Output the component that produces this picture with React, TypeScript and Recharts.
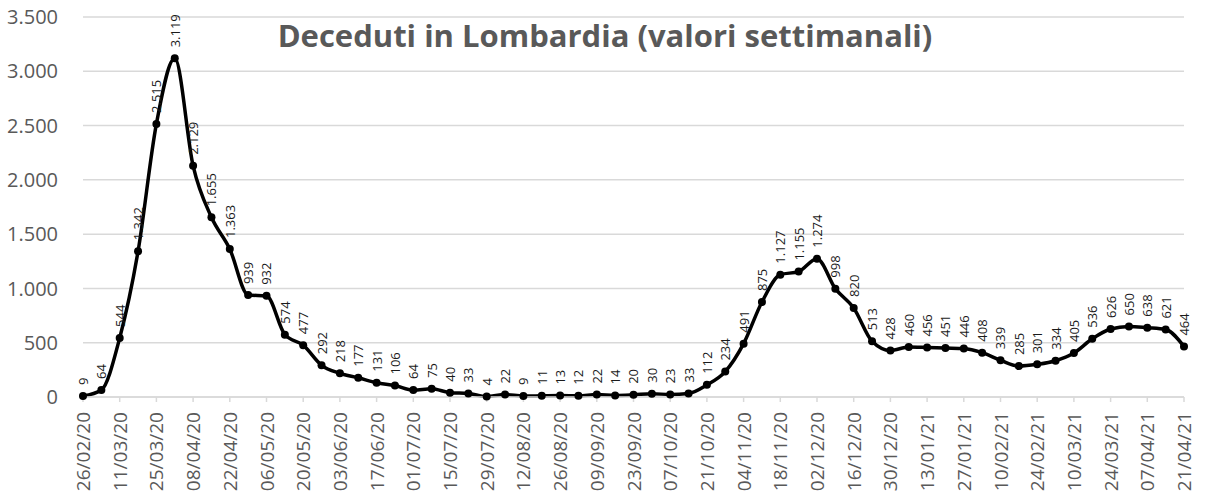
import React from 'react';
import { LineChart, Line, XAxis, YAxis, CartesianGrid, LabelList } from 'recharts';

const weeks = [
  '26/02/20', '04/03/20', '11/03/20', '18/03/20', '25/03/20', '01/04/20', '08/04/20', '15/04/20',
  '22/04/20', '29/04/20', '06/05/20', '13/05/20', '20/05/20', '27/05/20', '03/06/20', '10/06/20',
  '17/06/20', '24/06/20', '01/07/20', '08/07/20', '15/07/20', '22/07/20', '29/07/20', '05/08/20',
  '12/08/20', '19/08/20', '26/08/20', '02/09/20', '09/09/20', '16/09/20', '23/09/20', '30/09/20',
  '07/10/20', '14/10/20', '21/10/20', '28/10/20', '04/11/20', '11/11/20', '18/11/20', '25/11/20',
  '02/12/20', '09/12/20', '16/12/20', '23/12/20', '30/12/20', '06/01/21', '13/01/21', '20/01/21',
  '27/01/21', '03/02/21', '10/02/21', '17/02/21', '24/02/21', '03/03/21', '10/03/21', '17/03/21',
  '24/03/21', '31/03/21', '07/04/21', '14/04/21', '21/04/21',
];

const deaths = [
  9, 64, 544, 1342, 2515, 3119, 2129, 1655,
  1363, 939, 932, 574, 477, 292, 218, 177,
  131, 106, 64, 75, 40, 33, 4, 22,
  9, 11, 13, 12, 22, 14, 20, 30,
  23, 33, 112, 234, 491, 875, 1127, 1155,
  1274, 998, 820, 513, 428, 460, 456, 451,
  446, 408, 339, 285, 301, 334, 405, 536,
  626, 650, 638, 621, 464,
];

const yTicks = [0, 500, 1000, 1500, 2000, 2500, 3000, 3500];

const data = weeks.map((d, i) => ({ d, v: deaths[i] }));

const FONT = '"Open Sans", sans-serif';

const fmt = (n: number) => String(n).replace(/\B(?=(\d{3})+(?!\d))/g, '.');

const XTick = ({ x, y, payload }: any) => (
  <text
    x={x}
    y={y}
    transform={`rotate(-90, ${x}, ${y})`}
    textAnchor='end'
    dominantBaseline='central'
    fontSize={19}
    fontFamily={FONT}
    fill='#595959'
  >
    {payload.value}
  </text>
);

const ValueLabel = ({ x, y, value }: any) => {
  const ty = y - 11;
  return (
    <text
      x={x}
      y={ty}
      transform={`rotate(-90, ${x}, ${ty})`}
      textAnchor='start'
      dominantBaseline='central'
      fontSize={13}
      fontFamily={FONT}
      fill='#1a1a1a'
    >
      {fmt(value)}
    </text>
  );
};

export default function App() {
  return (
    <div style={{ position: 'absolute', left: 0, top: 0, width: 1214, height: 498, background: '#fff' }}>
      <LineChart width={1214} height={498} data={data} margin={{ top: 17, right: 30, bottom: 0, left: 0 }}>
        <CartesianGrid vertical={false} stroke='#d9d9d9' strokeWidth={1.5} />
        <XAxis
          dataKey='d'
          interval={1}
          height={101}
          tickSize={5}
          tickMargin={10}
          axisLine={{ stroke: '#d9d9d9', strokeWidth: 1.5 }}
          tickLine={{ stroke: '#d9d9d9', strokeWidth: 1.5 }}
          tick={<XTick />}
        />
        <YAxis
          domain={[0, 3500]}
          ticks={yTicks}
          width={83}
          axisLine={false}
          tickLine={false}
          tickSize={0}
          tickMargin={25}
          tickFormatter={fmt}
          tick={{ fontSize: 20, fontFamily: FONT, fill: '#595959' }}
        />
        <Line
          type='monotone'
          dataKey='v'
          stroke='#000'
          strokeWidth={3.5}
          dot={{ r: 4, fill: '#000', stroke: 'none' }}
          isAnimationActive={false}
        >
          <LabelList dataKey='v' content={<ValueLabel />} />
        </Line>
      </LineChart>
      <svg width={1214} height={498} style={{ position: 'absolute', left: 0, top: 0, pointerEvents: 'none' }}>
        <text x={605} y={47} textAnchor='middle' fontSize={31} fontWeight='bold' fontFamily={FONT} fill='#595959'>
          Deceduti in Lombardia (valori settimanali)
        </text>
      </svg>
    </div>
  );
}
